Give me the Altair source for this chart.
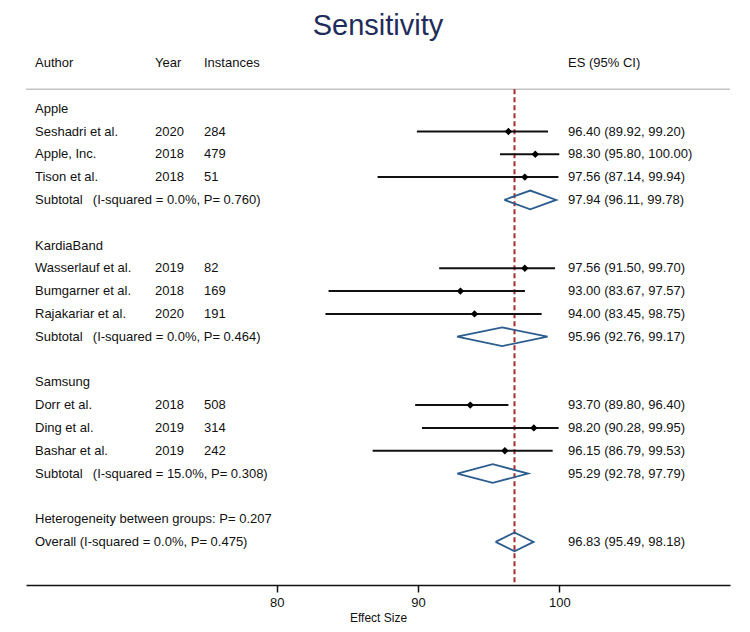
import altair as alt
import pandas as pd

# ---------------- data ----------------
group_names = ["Apple", "KardiaBand", "Samsung"]
authors = [["Seshadri et al.", "Apple, Inc.", "Tison et al."],
           ["Wasserlauf et al.", "Bumgarner et al.", "Rajakariar et al."],
           ["Dorr et al.", "Ding et al.", "Bashar et al."]]
years = [[2020, 2018, 2018], [2019, 2018, 2020], [2018, 2019, 2019]]
instances = [[284, 479, 51], [82, 169, 191], [508, 314, 242]]
es = [[96.40, 98.30, 97.56], [97.56, 93.00, 94.00], [93.70, 98.20, 96.15]]
lo = [[89.92, 95.80, 87.14], [91.50, 83.67, 83.45], [89.80, 90.28, 86.79]]
hi = [[99.20, 100.00, 99.94], [99.70, 97.57, 98.75], [96.40, 99.95, 99.53]]
sub_i2 = ["0.0%", "0.0%", "15.0%"]
sub_p = ["0.760", "0.464", "0.308"]
sub_es = [97.94, 95.96, 95.29]
sub_lo = [96.11, 92.76, 92.78]
sub_hi = [99.78, 99.17, 97.79]
het_p = "0.207"
overall_i2 = "0.0%"
overall_p = "0.475"
overall = [96.83, 95.49, 98.18]
header = ["Author", "Year", "Instances", "ES (95% CI)"]
x_ticks = [80, 90, 100]

# ---------------- build tables ----------------
def fmt(e, l, h):
    return f"{e:.2f} ({l:.2f}, {h:.2f})"

col_author, col_year, col_inst, col_es = [], [], [], []
studies, diamonds = [], []
HALF = 0.41

def add_diamond(did, r, e, l, h):
    pts = [(l, r), (e, r - HALF), (h, r), (e, r + HALF), (l, r)]
    for k, (xx, yy) in enumerate(pts):
        diamonds.append({"id": did, "k": k, "x": xx, "y": yy})

col_author.append({"row": -2, "t": header[0]})
col_year.append({"row": -2, "t": header[1]})
col_inst.append({"row": -2, "t": header[2]})
col_es.append({"row": -2, "t": header[3]})

r = 0
for gi, g in enumerate(group_names):
    col_author.append({"row": r, "t": g})
    r += 1
    for si in range(len(authors[gi])):
        col_author.append({"row": r, "t": authors[gi][si]})
        col_year.append({"row": r, "t": str(years[gi][si])})
        col_inst.append({"row": r, "t": str(instances[gi][si])})
        col_es.append({"row": r, "t": fmt(es[gi][si], lo[gi][si], hi[gi][si])})
        studies.append({"row": r, "es": es[gi][si], "lo": lo[gi][si], "hi": hi[gi][si]})
        r += 1
    col_author.append({"row": r, "t": f"Subtotal\u2002 (I-squared = {sub_i2[gi]}, P= {sub_p[gi]})"})
    col_es.append({"row": r, "t": fmt(sub_es[gi], sub_lo[gi], sub_hi[gi])})
    add_diamond(g, r, sub_es[gi], sub_lo[gi], sub_hi[gi])
    r += 2

col_author.append({"row": r, "t": f"Heterogeneity between groups: P= {het_p}"})
r += 1
col_author.append({"row": r, "t": f"Overall (I-squared = {overall_i2}, P= {overall_p})"})
col_es.append({"row": r, "t": fmt(*overall)})
add_diamond("Overall", r, *overall)

df_studies = pd.DataFrame(studies)
df_diam = pd.DataFrame(diamonds)

# ---------------- scales ----------------
W, H = 704, 541
xscale = alt.Scale(domain=[62.26, 112.08], nice=False, zero=False)
yscale = alt.Scale(domain=[-2.838, 20.89], reverse=True, nice=False, zero=False)
FONT = "Liberation Sans"
xaxis = alt.Axis(values=x_ticks, title="Effect Size", grid=False, tickSize=7,
                 tickWidth=1.5, tickColor="#111", domainColor="#111", domainWidth=1.5,
                 labelFontSize=13, labelFont=FONT, labelColor="#111", labelPadding=4,
                 titleFontSize=12, titleFont=FONT, titleFontWeight="normal",
                 titlePadding=3, titleColor="#111")

def text_layer(rows, px):
    return alt.Chart(pd.DataFrame(rows)).mark_text(
        align="left", baseline="middle", font=FONT, fontSize=13, color="#111"
    ).encode(x=alt.value(px), y=alt.Y("row:Q", scale=yscale, axis=None), text="t:N")

header_line = alt.Chart(pd.DataFrame({"y": [-0.85]})).mark_rule(
    color="#c4c4c4", strokeWidth=1.5
).encode(y=alt.Y("y:Q", scale=yscale, axis=None), x=alt.value(0), x2=alt.value(W))

null_line = alt.Chart(pd.DataFrame({"x": [overall[0]], "y": [-0.85]})).mark_rule(
    color="#a52a2a", strokeWidth=2, strokeDash=[5, 3]
).encode(x=alt.X("x:Q", scale=xscale, axis=xaxis),
         y=alt.Y("y:Q", scale=yscale, axis=None), y2=alt.value(H))

ci = alt.Chart(df_studies).mark_rule(color="#111", strokeWidth=2).encode(
    x=alt.X("lo:Q", scale=xscale, axis=xaxis), x2="hi:Q",
    y=alt.Y("row:Q", scale=yscale, axis=None))

pts = alt.Chart(df_studies).mark_point(shape="diamond", filled=True, color="#000",
                                       size=55, opacity=1).encode(
    x=alt.X("es:Q", scale=xscale, axis=xaxis),
    y=alt.Y("row:Q", scale=yscale, axis=None))

diam = alt.Chart(df_diam).mark_line(color="#2c5d8f", strokeWidth=1.8).encode(
    x=alt.X("x:Q", scale=xscale, axis=xaxis),
    y=alt.Y("y:Q", scale=yscale, axis=None),
    detail="id:N", order="k:Q")

chart = alt.layer(
    header_line, null_line, ci, pts, diam,
    text_layer(col_author, 9), text_layer(col_year, 129),
    text_layer(col_inst, 178), text_layer(col_es, 542),
).properties(
    width=W, height=H,
    autosize=alt.AutoSizeParams(type="none"),
    padding={"left": 18, "top": 36, "right": 12, "bottom": 39},
    title=alt.TitleParams("Sensitivity", fontSize=29, font=FONT, color="#1f2d5a",
                          fontWeight="normal", anchor="middle", offset=3),
).configure(background="white").configure_view(stroke=None, strokeWidth=0)

chart.save("out.html", embed_options={"renderer": "svg", "actions": False})
